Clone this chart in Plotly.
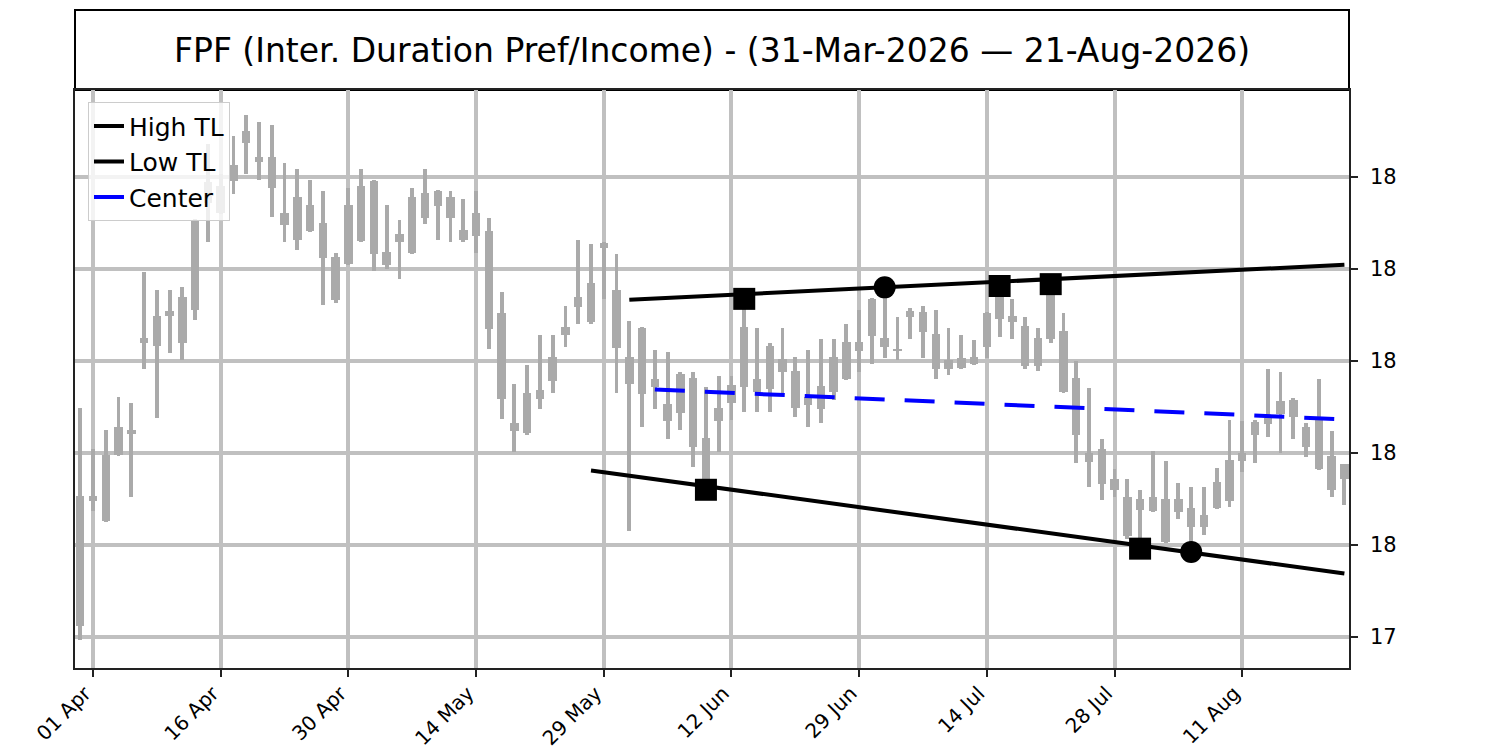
import plotly.graph_objects as go
import pandas as pd

# trading days 31-Mar-2026 .. 21-Aug-2026 (US market holidays skipped)
holidays = ["2026-04-03", "2026-05-25", "2026-06-19", "2026-07-03"]
days = pd.bdate_range("2026-03-31", "2026-08-21", freq="C", holidays=holidays)
dates = [d.strftime("%Y-%m-%d") for d in days]
tick_dates = dates[1::10]
tick_text = [d.strftime("%d %b") for d in days[1::10]]

opens = [17.423, 17.696, 17.652, 17.795, 17.841, 18.039, 18.032, 18.108, 18.039, 18.111,
         18.390, 18.321, 18.391, 18.499, 18.443, 18.443, 18.322, 18.264, 18.338, 18.299,
         18.132, 18.210, 18.260, 18.392, 18.208, 18.258, 18.235, 18.311, 18.370, 18.356,
         18.262, 18.322, 18.283, 18.105, 17.847, 17.844, 17.918, 17.957, 18.056, 18.118,
         18.085, 18.257, 18.154, 17.950, 18.071, 17.960, 17.870, 17.972, 17.962, 17.730,
         17.870, 17.909, 18.073, 17.933, 17.940, 18.004, 17.979, 17.904, 17.895, 17.933,
         17.960, 18.021, 18.135, 18.050, 18.022, 18.109, 18.107, 18.059, 17.983, 17.985,
         17.993, 18.030, 18.140, 18.098, 18.075, 17.989, 18.147, 18.065, 17.962, 17.801,
         17.808, 17.744, 17.620, 17.699, 17.674, 17.607, 17.700, 17.680, 17.640, 17.680,
         17.695, 17.782, 17.840, 17.862, 17.885, 17.915, 17.857, 17.873, 17.793, 17.744]
closes = [17.706, 17.706, 17.796, 17.857, 17.851, 18.050, 18.098, 18.097, 18.139, 18.307,
          18.343, 18.380, 18.427, 18.473, 18.433, 18.377, 18.296, 18.356, 18.282, 18.224,
          18.227, 18.338, 18.380, 18.233, 18.237, 18.275, 18.356, 18.365, 18.336, 18.311,
          18.285, 18.272, 18.070, 17.918, 17.865, 17.930, 17.937, 18.009, 18.073, 18.138,
          18.170, 18.246, 18.028, 18.009, 17.928, 17.943, 17.907, 17.886, 17.814, 17.833,
          17.898, 17.947, 17.943, 17.960, 18.033, 17.975, 17.898, 17.922, 17.946, 18.009,
          18.041, 18.041, 18.054, 18.030, 18.027, 18.095, 18.063, 17.983, 18.002, 18.006,
          18.008, 18.105, 18.092, 18.085, 17.988, 18.050, 18.047, 17.933, 17.838, 17.780,
          17.733, 17.720, 17.704, 17.676, 17.704, 17.699, 17.672, 17.640, 17.665, 17.737,
          17.785, 17.801, 17.867, 17.875, 17.912, 17.879, 17.814, 17.766, 17.720, 17.775]
highs = [17.897, 17.809, 17.849, 17.921, 17.908, 18.193, 18.154, 18.154, 18.160, 18.309,
         18.472, 18.407, 18.488, 18.534, 18.520, 18.513, 18.431, 18.417, 18.393, 18.369,
         18.235, 18.377, 18.417, 18.394, 18.340, 18.306, 18.377, 18.417, 18.372, 18.369,
         18.353, 18.369, 18.311, 18.150, 17.950, 17.991, 18.056, 18.056, 18.120, 18.263,
         18.254, 18.259, 18.233, 18.086, 18.073, 18.024, 18.020, 17.976, 17.976, 17.944,
         17.967, 17.967, 18.135, 18.072, 18.040, 18.072, 18.008, 18.024, 18.048, 18.048,
         18.080, 18.111, 18.137, 18.160, 18.095, 18.115, 18.120, 18.111, 18.072, 18.056,
         18.046, 18.107, 18.163, 18.134, 18.095, 18.072, 18.167, 18.105, 17.999, 17.941,
         17.830, 17.766, 17.743, 17.720, 17.804, 17.782, 17.734, 17.725, 17.727, 17.767,
         17.872, 17.869, 17.872, 17.983, 17.976, 17.920, 17.866, 17.960, 17.847, 17.775]
lows = [17.394, 17.674, 17.649, 17.793, 17.704, 17.982, 17.875, 18.018, 18.002, 18.090,
        18.259, 18.319, 18.364, 18.406, 18.394, 18.314, 18.259, 18.241, 18.280, 18.122,
        18.126, 18.208, 18.258, 18.196, 18.201, 18.179, 18.233, 18.298, 18.264, 18.259,
        18.259, 18.235, 18.025, 17.873, 17.802, 17.840, 17.896, 17.930, 18.031, 18.080,
        18.080, 18.135, 17.930, 17.631, 17.856, 17.896, 17.831, 17.849, 17.769, 17.720,
        17.802, 17.872, 17.888, 17.888, 17.888, 17.930, 17.879, 17.856, 17.865, 17.915,
        17.959, 17.976, 17.993, 18.007, 18.002, 18.048, 18.007, 17.960, 17.969, 17.982,
        17.991, 18.007, 18.053, 18.048, 17.983, 17.978, 18.040, 17.930, 17.778, 17.727,
        17.698, 17.704, 17.614, 17.592, 17.672, 17.604, 17.656, 17.585, 17.621, 17.678,
        17.683, 17.759, 17.778, 17.835, 17.801, 17.831, 17.792, 17.762, 17.704, 17.688]

# trendlines (start / end bar index and value)
high_tl_idx = [43, 99]
high_tl_val = [18.133, 18.209]
low_tl_idx = [40, 99]
low_tl_val = [17.762, 17.538]
center_idx = [45, 99]
center_val = [17.938, 17.873]

# pivot touches
square_idx = [49, 52, 72, 76, 83]
square_val = [17.720, 18.135, 18.163, 18.167, 17.592]
circle_idx = [63, 87]
circle_val = [18.160, 17.585]

y_ticks = [17.4, 17.6, 17.8, 18.0, 18.2, 18.4]

candle_color = "#aaaaaa"
font = "DejaVu Sans"

fig = go.Figure()

# wicks
fig.add_trace(go.Bar(
    x=dates, y=[h - l for h, l in zip(highs, lows)], base=lows,
    width=0.3, marker=dict(color=candle_color, line=dict(width=0)),
    showlegend=False, hoverinfo="skip"
))
# bodies
fig.add_trace(go.Bar(
    x=dates, y=[abs(c - o) for o, c in zip(opens, closes)],
    base=[min(o, c) for o, c in zip(opens, closes)],
    width=0.66, marker=dict(color=candle_color, line=dict(width=0)),
    showlegend=False, hoverinfo="skip"
))

fig.add_trace(go.Scatter(
    x=[dates[i] for i in high_tl_idx], y=high_tl_val, mode="lines",
    line=dict(color="black", width=4), name="High TL"
))
fig.add_trace(go.Scatter(
    x=[dates[i] for i in low_tl_idx], y=low_tl_val, mode="lines",
    line=dict(color="black", width=4), name="Low TL"
))
fig.add_trace(go.Scatter(
    x=[dates[i] for i in center_idx], y=center_val, mode="lines",
    line=dict(color="blue", width=4, dash="30px,20px"), name="Center"
))

fig.add_trace(go.Scatter(
    x=[dates[i] for i in square_idx], y=square_val, mode="markers",
    marker=dict(symbol="square", size=22, color="black"), showlegend=False
))
fig.add_trace(go.Scatter(
    x=[dates[i] for i in circle_idx], y=circle_val, mode="markers",
    marker=dict(symbol="circle", size=22, color="black"), showlegend=False
))

# title box above the plot area
fig.add_shape(type="rect", xref="paper", yref="paper", x0=0, x1=1, y0=1, y1=1 + 80 / 578,
              line=dict(color="black", width=2), fillcolor="white", layer="below")
fig.add_annotation(
    text="FPF (Inter. Duration Pref/Income) - (31-Mar-2026 \u2014 21-Aug-2026)",
    xref="paper", yref="paper", x=0.5, y=1 + 40 / 578, xanchor="center", yanchor="middle",
    showarrow=False, font=dict(family=font, size=33, color="black")
)

# page body adds an 8px margin, so the figure is 8px smaller than the window
fig.update_layout(
    width=1492, height=742,
    margin=dict(l=67, r=151, t=82, b=82, autoexpand=False),
    paper_bgcolor="white", plot_bgcolor="white",
    barmode="overlay", bargap=0,
    font=dict(family=font, color="black"),
    legend=dict(
        x=0.0102, y=0.979, xanchor="left", yanchor="top",
        bgcolor="rgba(255,255,255,0.8)", bordercolor="#cccccc", borderwidth=1,
        font=dict(family=font, size=25, color="black"), itemwidth=30
    ),
    xaxis=dict(
        type="category", range=[-0.41, 99.36],
        tickmode="array", tickvals=tick_dates, ticktext=tick_text, tickangle=-45,
        ticks="outside", ticklen=7, tickwidth=1.5, tickcolor="#222222",
        ticklabelshift=-8, ticklabelstandoff=-3,
        showgrid=True, gridcolor="#c0c0c0", gridwidth=4,
        showline=True, linecolor="#222222", linewidth=1.5, mirror=True,
        zeroline=False, tickfont=dict(family=font, size=20, color="black")
    ),
    yaxis=dict(
        side="right", range=[17.3326, 18.589],
        tickmode="array", tickvals=y_ticks, tickformat=".0f",
        ticks="outside", ticklen=7, tickwidth=1.5, tickcolor="#222222",
        ticklabelstandoff=8,
        showgrid=True, gridcolor="#c0c0c0", gridwidth=4,
        showline=True, linecolor="#222222", linewidth=1.5, mirror=True,
        zeroline=False, tickfont=dict(family=font, size=21, color="black")
    ),
)

fig.write_html("out.html")
